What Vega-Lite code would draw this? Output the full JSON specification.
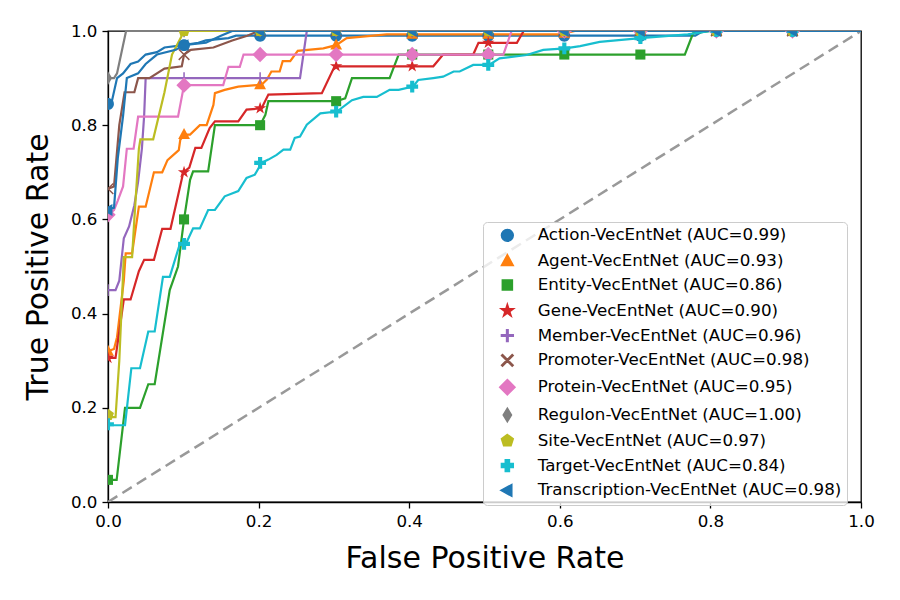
{
  "$schema": "https://vega.github.io/schema/vega-lite/v6.json",
  "width": 753,
  "height": 471,
  "autosize": {"type": "none"},
  "padding": {"left": 108, "top": 31, "right": 39, "bottom": 98},
  "background": "white",
  "config": {
    "font": "DejaVu Sans",
    "view": {"stroke": "black", "strokeWidth": 1.3},
    "axis": {
      "grid": false,
      "domainColor": "black",
      "domainWidth": 1.3,
      "tickColor": "black",
      "tickWidth": 1.3,
      "tickSize": 6,
      "labelFont": "DejaVu Sans",
      "labelFontSize": 16.7,
      "labelColor": "black",
      "labelPadding": 5,
      "labelFlush": false,
      "labelOverlap": false,
      "titleFont": "DejaVu Sans",
      "titleFontSize": 30,
      "titleFontWeight": "normal",
      "titleColor": "black"
    },
    "legend": {
      "orient": "none",
      "legendX": 375,
      "legendY": 191,
      "padding": 5,
      "strokeColor": "#cccccc",
      "fillColor": "rgba(255,255,255,0.8)",
      "cornerRadius": 4,
      "labelFont": "DejaVu Sans",
      "labelFontSize": 16.7,
      "labelColor": "black",
      "labelLimit": 400,
      "symbolSize": 140,
      "symbolOffset": 11,
      "labelOffset": 22,
      "rowPadding": 5.8
    }
  },
  "datasets": {
    "diag": [{"fpr": 0, "tpr": 0}, {"fpr": 1, "tpr": 1}],
    "curves": [
      {"s": "Action-VecEntNet (AUC=0.99)", "fpr": 0, "tpr": 0.845},
      {"s": "Action-VecEntNet (AUC=0.99)", "fpr": 0.005, "tpr": 0.85},
      {"s": "Action-VecEntNet (AUC=0.99)", "fpr": 0.012, "tpr": 0.9},
      {"s": "Action-VecEntNet (AUC=0.99)", "fpr": 0.02, "tpr": 0.91},
      {"s": "Action-VecEntNet (AUC=0.99)", "fpr": 0.03, "tpr": 0.93},
      {"s": "Action-VecEntNet (AUC=0.99)", "fpr": 0.04, "tpr": 0.935},
      {"s": "Action-VecEntNet (AUC=0.99)", "fpr": 0.05, "tpr": 0.95},
      {"s": "Action-VecEntNet (AUC=0.99)", "fpr": 0.065, "tpr": 0.955},
      {"s": "Action-VecEntNet (AUC=0.99)", "fpr": 0.075, "tpr": 0.965},
      {"s": "Action-VecEntNet (AUC=0.99)", "fpr": 0.1, "tpr": 0.97},
      {"s": "Action-VecEntNet (AUC=0.99)", "fpr": 0.12, "tpr": 0.975},
      {"s": "Action-VecEntNet (AUC=0.99)", "fpr": 0.13, "tpr": 0.98},
      {"s": "Action-VecEntNet (AUC=0.99)", "fpr": 0.16, "tpr": 0.985},
      {"s": "Action-VecEntNet (AUC=0.99)", "fpr": 0.17, "tpr": 0.99},
      {"s": "Action-VecEntNet (AUC=0.99)", "fpr": 0.78, "tpr": 0.99},
      {"s": "Action-VecEntNet (AUC=0.99)", "fpr": 0.79, "tpr": 1.0},
      {"s": "Action-VecEntNet (AUC=0.99)", "fpr": 1, "tpr": 1.0},

      {"s": "Agent-VecEntNet (AUC=0.93)", "fpr": 0, "tpr": 0.32},
      {"s": "Agent-VecEntNet (AUC=0.93)", "fpr": 0.008, "tpr": 0.325},
      {"s": "Agent-VecEntNet (AUC=0.93)", "fpr": 0.012, "tpr": 0.35},
      {"s": "Agent-VecEntNet (AUC=0.93)", "fpr": 0.021, "tpr": 0.47},
      {"s": "Agent-VecEntNet (AUC=0.93)", "fpr": 0.0235, "tpr": 0.528},
      {"s": "Agent-VecEntNet (AUC=0.93)", "fpr": 0.032, "tpr": 0.528},
      {"s": "Agent-VecEntNet (AUC=0.93)", "fpr": 0.041, "tpr": 0.627},
      {"s": "Agent-VecEntNet (AUC=0.93)", "fpr": 0.05, "tpr": 0.627},
      {"s": "Agent-VecEntNet (AUC=0.93)", "fpr": 0.061, "tpr": 0.7},
      {"s": "Agent-VecEntNet (AUC=0.93)", "fpr": 0.072, "tpr": 0.7},
      {"s": "Agent-VecEntNet (AUC=0.93)", "fpr": 0.079, "tpr": 0.726},
      {"s": "Agent-VecEntNet (AUC=0.93)", "fpr": 0.094, "tpr": 0.747},
      {"s": "Agent-VecEntNet (AUC=0.93)", "fpr": 0.096, "tpr": 0.769},
      {"s": "Agent-VecEntNet (AUC=0.93)", "fpr": 0.101, "tpr": 0.78},
      {"s": "Agent-VecEntNet (AUC=0.93)", "fpr": 0.109, "tpr": 0.78},
      {"s": "Agent-VecEntNet (AUC=0.93)", "fpr": 0.122, "tpr": 0.8},
      {"s": "Agent-VecEntNet (AUC=0.93)", "fpr": 0.131, "tpr": 0.8},
      {"s": "Agent-VecEntNet (AUC=0.93)", "fpr": 0.14, "tpr": 0.843},
      {"s": "Agent-VecEntNet (AUC=0.93)", "fpr": 0.142, "tpr": 0.868},
      {"s": "Agent-VecEntNet (AUC=0.93)", "fpr": 0.155, "tpr": 0.875},
      {"s": "Agent-VecEntNet (AUC=0.93)", "fpr": 0.173, "tpr": 0.882},
      {"s": "Agent-VecEntNet (AUC=0.93)", "fpr": 0.204, "tpr": 0.886},
      {"s": "Agent-VecEntNet (AUC=0.93)", "fpr": 0.211, "tpr": 0.897},
      {"s": "Agent-VecEntNet (AUC=0.93)", "fpr": 0.217, "tpr": 0.914},
      {"s": "Agent-VecEntNet (AUC=0.93)", "fpr": 0.228, "tpr": 0.914},
      {"s": "Agent-VecEntNet (AUC=0.93)", "fpr": 0.232, "tpr": 0.936},
      {"s": "Agent-VecEntNet (AUC=0.93)", "fpr": 0.242, "tpr": 0.936},
      {"s": "Agent-VecEntNet (AUC=0.93)", "fpr": 0.252, "tpr": 0.958},
      {"s": "Agent-VecEntNet (AUC=0.93)", "fpr": 0.286, "tpr": 0.963},
      {"s": "Agent-VecEntNet (AUC=0.93)", "fpr": 0.303, "tpr": 0.97},
      {"s": "Agent-VecEntNet (AUC=0.93)", "fpr": 0.317, "tpr": 0.985},
      {"s": "Agent-VecEntNet (AUC=0.93)", "fpr": 0.37, "tpr": 0.993},
      {"s": "Agent-VecEntNet (AUC=0.93)", "fpr": 0.6, "tpr": 0.993},
      {"s": "Agent-VecEntNet (AUC=0.93)", "fpr": 0.62, "tpr": 1.0},
      {"s": "Agent-VecEntNet (AUC=0.93)", "fpr": 1, "tpr": 1.0},

      {"s": "Entity-VecEntNet (AUC=0.86)", "fpr": 0, "tpr": 0.047},
      {"s": "Entity-VecEntNet (AUC=0.86)", "fpr": 0.0115, "tpr": 0.047},
      {"s": "Entity-VecEntNet (AUC=0.86)", "fpr": 0.0226, "tpr": 0.2},
      {"s": "Entity-VecEntNet (AUC=0.86)", "fpr": 0.0425, "tpr": 0.2},
      {"s": "Entity-VecEntNet (AUC=0.86)", "fpr": 0.0535, "tpr": 0.25},
      {"s": "Entity-VecEntNet (AUC=0.86)", "fpr": 0.062, "tpr": 0.25},
      {"s": "Entity-VecEntNet (AUC=0.86)", "fpr": 0.082, "tpr": 0.45},
      {"s": "Entity-VecEntNet (AUC=0.86)", "fpr": 0.093, "tpr": 0.5},
      {"s": "Entity-VecEntNet (AUC=0.86)", "fpr": 0.101, "tpr": 0.6},
      {"s": "Entity-VecEntNet (AUC=0.86)", "fpr": 0.109, "tpr": 0.684},
      {"s": "Entity-VecEntNet (AUC=0.86)", "fpr": 0.113, "tpr": 0.702},
      {"s": "Entity-VecEntNet (AUC=0.86)", "fpr": 0.133, "tpr": 0.702},
      {"s": "Entity-VecEntNet (AUC=0.86)", "fpr": 0.142, "tpr": 0.8},
      {"s": "Entity-VecEntNet (AUC=0.86)", "fpr": 0.202, "tpr": 0.8},
      {"s": "Entity-VecEntNet (AUC=0.86)", "fpr": 0.209, "tpr": 0.822},
      {"s": "Entity-VecEntNet (AUC=0.86)", "fpr": 0.213, "tpr": 0.851},
      {"s": "Entity-VecEntNet (AUC=0.86)", "fpr": 0.303, "tpr": 0.851},
      {"s": "Entity-VecEntNet (AUC=0.86)", "fpr": 0.315, "tpr": 0.857},
      {"s": "Entity-VecEntNet (AUC=0.86)", "fpr": 0.324, "tpr": 0.9},
      {"s": "Entity-VecEntNet (AUC=0.86)", "fpr": 0.374, "tpr": 0.9},
      {"s": "Entity-VecEntNet (AUC=0.86)", "fpr": 0.386, "tpr": 0.95},
      {"s": "Entity-VecEntNet (AUC=0.86)", "fpr": 0.766, "tpr": 0.95},
      {"s": "Entity-VecEntNet (AUC=0.86)", "fpr": 0.777, "tpr": 0.995},
      {"s": "Entity-VecEntNet (AUC=0.86)", "fpr": 0.8, "tpr": 1.0},
      {"s": "Entity-VecEntNet (AUC=0.86)", "fpr": 1, "tpr": 1.0},

      {"s": "Gene-VecEntNet (AUC=0.90)", "fpr": 0, "tpr": 0.306},
      {"s": "Gene-VecEntNet (AUC=0.90)", "fpr": 0.01, "tpr": 0.306},
      {"s": "Gene-VecEntNet (AUC=0.90)", "fpr": 0.021, "tpr": 0.43},
      {"s": "Gene-VecEntNet (AUC=0.90)", "fpr": 0.03, "tpr": 0.43},
      {"s": "Gene-VecEntNet (AUC=0.90)", "fpr": 0.041, "tpr": 0.49},
      {"s": "Gene-VecEntNet (AUC=0.90)", "fpr": 0.048, "tpr": 0.514},
      {"s": "Gene-VecEntNet (AUC=0.90)", "fpr": 0.061, "tpr": 0.514},
      {"s": "Gene-VecEntNet (AUC=0.90)", "fpr": 0.072, "tpr": 0.58},
      {"s": "Gene-VecEntNet (AUC=0.90)", "fpr": 0.083, "tpr": 0.58},
      {"s": "Gene-VecEntNet (AUC=0.90)", "fpr": 0.1, "tpr": 0.7},
      {"s": "Gene-VecEntNet (AUC=0.90)", "fpr": 0.108, "tpr": 0.71},
      {"s": "Gene-VecEntNet (AUC=0.90)", "fpr": 0.116, "tpr": 0.752},
      {"s": "Gene-VecEntNet (AUC=0.90)", "fpr": 0.124, "tpr": 0.752},
      {"s": "Gene-VecEntNet (AUC=0.90)", "fpr": 0.135, "tpr": 0.794},
      {"s": "Gene-VecEntNet (AUC=0.90)", "fpr": 0.142, "tpr": 0.808},
      {"s": "Gene-VecEntNet (AUC=0.90)", "fpr": 0.173, "tpr": 0.808},
      {"s": "Gene-VecEntNet (AUC=0.90)", "fpr": 0.184, "tpr": 0.833},
      {"s": "Gene-VecEntNet (AUC=0.90)", "fpr": 0.204, "tpr": 0.836},
      {"s": "Gene-VecEntNet (AUC=0.90)", "fpr": 0.213, "tpr": 0.865},
      {"s": "Gene-VecEntNet (AUC=0.90)", "fpr": 0.284, "tpr": 0.868},
      {"s": "Gene-VecEntNet (AUC=0.90)", "fpr": 0.301, "tpr": 0.925},
      {"s": "Gene-VecEntNet (AUC=0.90)", "fpr": 0.432, "tpr": 0.925},
      {"s": "Gene-VecEntNet (AUC=0.90)", "fpr": 0.445, "tpr": 0.95},
      {"s": "Gene-VecEntNet (AUC=0.90)", "fpr": 0.485, "tpr": 0.95},
      {"s": "Gene-VecEntNet (AUC=0.90)", "fpr": 0.492, "tpr": 0.975},
      {"s": "Gene-VecEntNet (AUC=0.90)", "fpr": 0.543, "tpr": 0.975},
      {"s": "Gene-VecEntNet (AUC=0.90)", "fpr": 0.552, "tpr": 1.0},
      {"s": "Gene-VecEntNet (AUC=0.90)", "fpr": 1, "tpr": 1.0},

      {"s": "Member-VecEntNet (AUC=0.96)", "fpr": 0, "tpr": 0.45},
      {"s": "Member-VecEntNet (AUC=0.96)", "fpr": 0.01, "tpr": 0.45},
      {"s": "Member-VecEntNet (AUC=0.96)", "fpr": 0.015, "tpr": 0.47},
      {"s": "Member-VecEntNet (AUC=0.96)", "fpr": 0.021, "tpr": 0.56},
      {"s": "Member-VecEntNet (AUC=0.96)", "fpr": 0.028, "tpr": 0.585},
      {"s": "Member-VecEntNet (AUC=0.96)", "fpr": 0.035, "tpr": 0.63},
      {"s": "Member-VecEntNet (AUC=0.96)", "fpr": 0.04, "tpr": 0.68},
      {"s": "Member-VecEntNet (AUC=0.96)", "fpr": 0.045, "tpr": 0.75},
      {"s": "Member-VecEntNet (AUC=0.96)", "fpr": 0.048, "tpr": 0.82},
      {"s": "Member-VecEntNet (AUC=0.96)", "fpr": 0.05, "tpr": 0.9},
      {"s": "Member-VecEntNet (AUC=0.96)", "fpr": 0.255, "tpr": 0.9},
      {"s": "Member-VecEntNet (AUC=0.96)", "fpr": 0.264, "tpr": 1.0},
      {"s": "Member-VecEntNet (AUC=0.96)", "fpr": 1, "tpr": 1.0},

      {"s": "Promoter-VecEntNet (AUC=0.98)", "fpr": 0, "tpr": 0.665},
      {"s": "Promoter-VecEntNet (AUC=0.98)", "fpr": 0.008, "tpr": 0.67},
      {"s": "Promoter-VecEntNet (AUC=0.98)", "fpr": 0.015, "tpr": 0.8},
      {"s": "Promoter-VecEntNet (AUC=0.98)", "fpr": 0.022, "tpr": 0.87},
      {"s": "Promoter-VecEntNet (AUC=0.98)", "fpr": 0.035, "tpr": 0.87},
      {"s": "Promoter-VecEntNet (AUC=0.98)", "fpr": 0.04, "tpr": 0.9},
      {"s": "Promoter-VecEntNet (AUC=0.98)", "fpr": 0.055, "tpr": 0.9},
      {"s": "Promoter-VecEntNet (AUC=0.98)", "fpr": 0.075, "tpr": 0.92},
      {"s": "Promoter-VecEntNet (AUC=0.98)", "fpr": 0.098, "tpr": 0.925},
      {"s": "Promoter-VecEntNet (AUC=0.98)", "fpr": 0.101, "tpr": 0.95},
      {"s": "Promoter-VecEntNet (AUC=0.98)", "fpr": 0.11, "tpr": 0.96},
      {"s": "Promoter-VecEntNet (AUC=0.98)", "fpr": 0.14, "tpr": 0.965},
      {"s": "Promoter-VecEntNet (AUC=0.98)", "fpr": 0.165, "tpr": 0.98},
      {"s": "Promoter-VecEntNet (AUC=0.98)", "fpr": 0.185, "tpr": 0.99},
      {"s": "Promoter-VecEntNet (AUC=0.98)", "fpr": 0.2, "tpr": 1.0},
      {"s": "Promoter-VecEntNet (AUC=0.98)", "fpr": 1, "tpr": 1.0},

      {"s": "Protein-VecEntNet (AUC=0.95)", "fpr": 0, "tpr": 0.61},
      {"s": "Protein-VecEntNet (AUC=0.95)", "fpr": 0.008, "tpr": 0.62},
      {"s": "Protein-VecEntNet (AUC=0.95)", "fpr": 0.013, "tpr": 0.64},
      {"s": "Protein-VecEntNet (AUC=0.95)", "fpr": 0.02, "tpr": 0.67},
      {"s": "Protein-VecEntNet (AUC=0.95)", "fpr": 0.025, "tpr": 0.75},
      {"s": "Protein-VecEntNet (AUC=0.95)", "fpr": 0.034, "tpr": 0.75},
      {"s": "Protein-VecEntNet (AUC=0.95)", "fpr": 0.04, "tpr": 0.818},
      {"s": "Protein-VecEntNet (AUC=0.95)", "fpr": 0.093, "tpr": 0.818},
      {"s": "Protein-VecEntNet (AUC=0.95)", "fpr": 0.101, "tpr": 0.885},
      {"s": "Protein-VecEntNet (AUC=0.95)", "fpr": 0.153, "tpr": 0.885},
      {"s": "Protein-VecEntNet (AUC=0.95)", "fpr": 0.16, "tpr": 0.924},
      {"s": "Protein-VecEntNet (AUC=0.95)", "fpr": 0.175, "tpr": 0.924},
      {"s": "Protein-VecEntNet (AUC=0.95)", "fpr": 0.18, "tpr": 0.95},
      {"s": "Protein-VecEntNet (AUC=0.95)", "fpr": 0.525, "tpr": 0.95},
      {"s": "Protein-VecEntNet (AUC=0.95)", "fpr": 0.536, "tpr": 1.0},
      {"s": "Protein-VecEntNet (AUC=0.95)", "fpr": 1, "tpr": 1.0},

      {"s": "Regulon-VecEntNet (AUC=1.00)", "fpr": 0, "tpr": 0.9},
      {"s": "Regulon-VecEntNet (AUC=1.00)", "fpr": 0.008, "tpr": 0.9},
      {"s": "Regulon-VecEntNet (AUC=1.00)", "fpr": 0.012, "tpr": 0.91},
      {"s": "Regulon-VecEntNet (AUC=1.00)", "fpr": 0.024, "tpr": 1.0},
      {"s": "Regulon-VecEntNet (AUC=1.00)", "fpr": 1, "tpr": 1.0},

      {"s": "Site-VecEntNet (AUC=0.97)", "fpr": 0, "tpr": 0.18},
      {"s": "Site-VecEntNet (AUC=0.97)", "fpr": 0.01, "tpr": 0.18},
      {"s": "Site-VecEntNet (AUC=0.97)", "fpr": 0.015, "tpr": 0.3},
      {"s": "Site-VecEntNet (AUC=0.97)", "fpr": 0.021, "tpr": 0.52},
      {"s": "Site-VecEntNet (AUC=0.97)", "fpr": 0.032, "tpr": 0.52},
      {"s": "Site-VecEntNet (AUC=0.97)", "fpr": 0.035, "tpr": 0.6},
      {"s": "Site-VecEntNet (AUC=0.97)", "fpr": 0.041, "tpr": 0.75},
      {"s": "Site-VecEntNet (AUC=0.97)", "fpr": 0.043, "tpr": 0.77},
      {"s": "Site-VecEntNet (AUC=0.97)", "fpr": 0.06, "tpr": 0.77},
      {"s": "Site-VecEntNet (AUC=0.97)", "fpr": 0.075, "tpr": 0.87},
      {"s": "Site-VecEntNet (AUC=0.97)", "fpr": 0.085, "tpr": 0.95},
      {"s": "Site-VecEntNet (AUC=0.97)", "fpr": 0.098, "tpr": 0.99},
      {"s": "Site-VecEntNet (AUC=0.97)", "fpr": 0.101, "tpr": 1.0},
      {"s": "Site-VecEntNet (AUC=0.97)", "fpr": 1, "tpr": 1.0},

      {"s": "Target-VecEntNet (AUC=0.84)", "fpr": 0, "tpr": 0.163},
      {"s": "Target-VecEntNet (AUC=0.84)", "fpr": 0.0226, "tpr": 0.163},
      {"s": "Target-VecEntNet (AUC=0.84)", "fpr": 0.031, "tpr": 0.284},
      {"s": "Target-VecEntNet (AUC=0.84)", "fpr": 0.0425, "tpr": 0.284},
      {"s": "Target-VecEntNet (AUC=0.84)", "fpr": 0.0535, "tpr": 0.362},
      {"s": "Target-VecEntNet (AUC=0.84)", "fpr": 0.062, "tpr": 0.362},
      {"s": "Target-VecEntNet (AUC=0.84)", "fpr": 0.073, "tpr": 0.478},
      {"s": "Target-VecEntNet (AUC=0.84)", "fpr": 0.082, "tpr": 0.478},
      {"s": "Target-VecEntNet (AUC=0.84)", "fpr": 0.0956, "tpr": 0.549},
      {"s": "Target-VecEntNet (AUC=0.84)", "fpr": 0.104, "tpr": 0.55},
      {"s": "Target-VecEntNet (AUC=0.84)", "fpr": 0.113, "tpr": 0.581},
      {"s": "Target-VecEntNet (AUC=0.84)", "fpr": 0.122, "tpr": 0.581},
      {"s": "Target-VecEntNet (AUC=0.84)", "fpr": 0.133, "tpr": 0.62},
      {"s": "Target-VecEntNet (AUC=0.84)", "fpr": 0.142, "tpr": 0.62},
      {"s": "Target-VecEntNet (AUC=0.84)", "fpr": 0.155, "tpr": 0.649},
      {"s": "Target-VecEntNet (AUC=0.84)", "fpr": 0.173, "tpr": 0.66},
      {"s": "Target-VecEntNet (AUC=0.84)", "fpr": 0.184, "tpr": 0.688},
      {"s": "Target-VecEntNet (AUC=0.84)", "fpr": 0.195, "tpr": 0.695},
      {"s": "Target-VecEntNet (AUC=0.84)", "fpr": 0.204, "tpr": 0.72},
      {"s": "Target-VecEntNet (AUC=0.84)", "fpr": 0.213, "tpr": 0.727},
      {"s": "Target-VecEntNet (AUC=0.84)", "fpr": 0.224, "tpr": 0.737},
      {"s": "Target-VecEntNet (AUC=0.84)", "fpr": 0.233, "tpr": 0.748},
      {"s": "Target-VecEntNet (AUC=0.84)", "fpr": 0.242, "tpr": 0.748},
      {"s": "Target-VecEntNet (AUC=0.84)", "fpr": 0.248, "tpr": 0.773},
      {"s": "Target-VecEntNet (AUC=0.84)", "fpr": 0.255, "tpr": 0.776},
      {"s": "Target-VecEntNet (AUC=0.84)", "fpr": 0.264, "tpr": 0.801},
      {"s": "Target-VecEntNet (AUC=0.84)", "fpr": 0.282, "tpr": 0.825},
      {"s": "Target-VecEntNet (AUC=0.84)", "fpr": 0.304, "tpr": 0.829},
      {"s": "Target-VecEntNet (AUC=0.84)", "fpr": 0.324, "tpr": 0.853},
      {"s": "Target-VecEntNet (AUC=0.84)", "fpr": 0.339, "tpr": 0.86},
      {"s": "Target-VecEntNet (AUC=0.84)", "fpr": 0.357, "tpr": 0.86},
      {"s": "Target-VecEntNet (AUC=0.84)", "fpr": 0.374, "tpr": 0.875},
      {"s": "Target-VecEntNet (AUC=0.84)", "fpr": 0.386, "tpr": 0.875},
      {"s": "Target-VecEntNet (AUC=0.84)", "fpr": 0.405, "tpr": 0.882},
      {"s": "Target-VecEntNet (AUC=0.84)", "fpr": 0.412, "tpr": 0.896},
      {"s": "Target-VecEntNet (AUC=0.84)", "fpr": 0.432, "tpr": 0.9},
      {"s": "Target-VecEntNet (AUC=0.84)", "fpr": 0.445, "tpr": 0.903},
      {"s": "Target-VecEntNet (AUC=0.84)", "fpr": 0.459, "tpr": 0.914},
      {"s": "Target-VecEntNet (AUC=0.84)", "fpr": 0.467, "tpr": 0.914},
      {"s": "Target-VecEntNet (AUC=0.84)", "fpr": 0.485, "tpr": 0.928},
      {"s": "Target-VecEntNet (AUC=0.84)", "fpr": 0.506, "tpr": 0.928},
      {"s": "Target-VecEntNet (AUC=0.84)", "fpr": 0.52, "tpr": 0.942},
      {"s": "Target-VecEntNet (AUC=0.84)", "fpr": 0.556, "tpr": 0.949},
      {"s": "Target-VecEntNet (AUC=0.84)", "fpr": 0.578, "tpr": 0.96},
      {"s": "Target-VecEntNet (AUC=0.84)", "fpr": 0.607, "tpr": 0.963},
      {"s": "Target-VecEntNet (AUC=0.84)", "fpr": 0.627, "tpr": 0.968},
      {"s": "Target-VecEntNet (AUC=0.84)", "fpr": 0.653, "tpr": 0.977},
      {"s": "Target-VecEntNet (AUC=0.84)", "fpr": 0.707, "tpr": 0.985},
      {"s": "Target-VecEntNet (AUC=0.84)", "fpr": 0.77, "tpr": 0.993},
      {"s": "Target-VecEntNet (AUC=0.84)", "fpr": 0.8, "tpr": 1.0},
      {"s": "Target-VecEntNet (AUC=0.84)", "fpr": 1, "tpr": 1.0},

      {"s": "Transcription-VecEntNet (AUC=0.98)", "fpr": 0, "tpr": 0.62},
      {"s": "Transcription-VecEntNet (AUC=0.98)", "fpr": 0.008, "tpr": 0.625},
      {"s": "Transcription-VecEntNet (AUC=0.98)", "fpr": 0.013, "tpr": 0.73},
      {"s": "Transcription-VecEntNet (AUC=0.98)", "fpr": 0.02, "tpr": 0.82},
      {"s": "Transcription-VecEntNet (AUC=0.98)", "fpr": 0.025, "tpr": 0.9},
      {"s": "Transcription-VecEntNet (AUC=0.98)", "fpr": 0.04, "tpr": 0.91},
      {"s": "Transcription-VecEntNet (AUC=0.98)", "fpr": 0.05, "tpr": 0.93},
      {"s": "Transcription-VecEntNet (AUC=0.98)", "fpr": 0.065, "tpr": 0.95},
      {"s": "Transcription-VecEntNet (AUC=0.98)", "fpr": 0.09, "tpr": 0.96},
      {"s": "Transcription-VecEntNet (AUC=0.98)", "fpr": 0.1, "tpr": 0.97},
      {"s": "Transcription-VecEntNet (AUC=0.98)", "fpr": 0.13, "tpr": 0.975},
      {"s": "Transcription-VecEntNet (AUC=0.98)", "fpr": 0.15, "tpr": 0.99},
      {"s": "Transcription-VecEntNet (AUC=0.98)", "fpr": 0.165, "tpr": 1.0},
      {"s": "Transcription-VecEntNet (AUC=0.98)", "fpr": 1, "tpr": 1.0}
    ],
    "markers": [
      {"s": "Action-VecEntNet (AUC=0.99)", "fpr": 0, "tpr": 0.845},
      {"s": "Action-VecEntNet (AUC=0.99)", "fpr": 0.101, "tpr": 0.97},
      {"s": "Action-VecEntNet (AUC=0.99)", "fpr": 0.202, "tpr": 0.99},
      {"s": "Action-VecEntNet (AUC=0.99)", "fpr": 0.303, "tpr": 0.99},
      {"s": "Action-VecEntNet (AUC=0.99)", "fpr": 0.404, "tpr": 0.99},
      {"s": "Action-VecEntNet (AUC=0.99)", "fpr": 0.505, "tpr": 0.99},
      {"s": "Action-VecEntNet (AUC=0.99)", "fpr": 0.606, "tpr": 0.99},
      {"s": "Action-VecEntNet (AUC=0.99)", "fpr": 0.707, "tpr": 0.99},
      {"s": "Action-VecEntNet (AUC=0.99)", "fpr": 0.808, "tpr": 1.0},
      {"s": "Action-VecEntNet (AUC=0.99)", "fpr": 0.909, "tpr": 1.0},
      {"s": "Agent-VecEntNet (AUC=0.93)", "fpr": 0, "tpr": 0.32},
      {"s": "Agent-VecEntNet (AUC=0.93)", "fpr": 0.101, "tpr": 0.78},
      {"s": "Agent-VecEntNet (AUC=0.93)", "fpr": 0.202, "tpr": 0.886},
      {"s": "Agent-VecEntNet (AUC=0.93)", "fpr": 0.303, "tpr": 0.97},
      {"s": "Agent-VecEntNet (AUC=0.93)", "fpr": 0.404, "tpr": 0.993},
      {"s": "Agent-VecEntNet (AUC=0.93)", "fpr": 0.505, "tpr": 0.993},
      {"s": "Agent-VecEntNet (AUC=0.93)", "fpr": 0.606, "tpr": 0.995},
      {"s": "Agent-VecEntNet (AUC=0.93)", "fpr": 0.707, "tpr": 1.0},
      {"s": "Agent-VecEntNet (AUC=0.93)", "fpr": 0.808, "tpr": 1.0},
      {"s": "Agent-VecEntNet (AUC=0.93)", "fpr": 0.909, "tpr": 1.0},
      {"s": "Entity-VecEntNet (AUC=0.86)", "fpr": 0, "tpr": 0.047},
      {"s": "Entity-VecEntNet (AUC=0.86)", "fpr": 0.101, "tpr": 0.6},
      {"s": "Entity-VecEntNet (AUC=0.86)", "fpr": 0.202, "tpr": 0.8},
      {"s": "Entity-VecEntNet (AUC=0.86)", "fpr": 0.303, "tpr": 0.851},
      {"s": "Entity-VecEntNet (AUC=0.86)", "fpr": 0.404, "tpr": 0.95},
      {"s": "Entity-VecEntNet (AUC=0.86)", "fpr": 0.505, "tpr": 0.95},
      {"s": "Entity-VecEntNet (AUC=0.86)", "fpr": 0.606, "tpr": 0.95},
      {"s": "Entity-VecEntNet (AUC=0.86)", "fpr": 0.707, "tpr": 0.95},
      {"s": "Entity-VecEntNet (AUC=0.86)", "fpr": 0.808, "tpr": 1.0},
      {"s": "Entity-VecEntNet (AUC=0.86)", "fpr": 0.909, "tpr": 1.0},
      {"s": "Gene-VecEntNet (AUC=0.90)", "fpr": 0, "tpr": 0.306},
      {"s": "Gene-VecEntNet (AUC=0.90)", "fpr": 0.101, "tpr": 0.7},
      {"s": "Gene-VecEntNet (AUC=0.90)", "fpr": 0.202, "tpr": 0.836},
      {"s": "Gene-VecEntNet (AUC=0.90)", "fpr": 0.303, "tpr": 0.925},
      {"s": "Gene-VecEntNet (AUC=0.90)", "fpr": 0.404, "tpr": 0.925},
      {"s": "Gene-VecEntNet (AUC=0.90)", "fpr": 0.505, "tpr": 0.975},
      {"s": "Gene-VecEntNet (AUC=0.90)", "fpr": 0.606, "tpr": 1.0},
      {"s": "Gene-VecEntNet (AUC=0.90)", "fpr": 0.707, "tpr": 1.0},
      {"s": "Gene-VecEntNet (AUC=0.90)", "fpr": 0.808, "tpr": 1.0},
      {"s": "Gene-VecEntNet (AUC=0.90)", "fpr": 0.909, "tpr": 1.0},
      {"s": "Member-VecEntNet (AUC=0.96)", "fpr": 0, "tpr": 0.45},
      {"s": "Member-VecEntNet (AUC=0.96)", "fpr": 0.101, "tpr": 0.9},
      {"s": "Member-VecEntNet (AUC=0.96)", "fpr": 0.202, "tpr": 0.9},
      {"s": "Member-VecEntNet (AUC=0.96)", "fpr": 0.303, "tpr": 1.0},
      {"s": "Member-VecEntNet (AUC=0.96)", "fpr": 0.404, "tpr": 1.0},
      {"s": "Member-VecEntNet (AUC=0.96)", "fpr": 0.505, "tpr": 1.0},
      {"s": "Member-VecEntNet (AUC=0.96)", "fpr": 0.606, "tpr": 1.0},
      {"s": "Member-VecEntNet (AUC=0.96)", "fpr": 0.707, "tpr": 1.0},
      {"s": "Member-VecEntNet (AUC=0.96)", "fpr": 0.808, "tpr": 1.0},
      {"s": "Member-VecEntNet (AUC=0.96)", "fpr": 0.909, "tpr": 1.0},
      {"s": "Promoter-VecEntNet (AUC=0.98)", "fpr": 0, "tpr": 0.665},
      {"s": "Promoter-VecEntNet (AUC=0.98)", "fpr": 0.101, "tpr": 0.95},
      {"s": "Promoter-VecEntNet (AUC=0.98)", "fpr": 0.202, "tpr": 1.0},
      {"s": "Promoter-VecEntNet (AUC=0.98)", "fpr": 0.303, "tpr": 1.0},
      {"s": "Promoter-VecEntNet (AUC=0.98)", "fpr": 0.404, "tpr": 1.0},
      {"s": "Promoter-VecEntNet (AUC=0.98)", "fpr": 0.505, "tpr": 1.0},
      {"s": "Promoter-VecEntNet (AUC=0.98)", "fpr": 0.606, "tpr": 1.0},
      {"s": "Promoter-VecEntNet (AUC=0.98)", "fpr": 0.707, "tpr": 1.0},
      {"s": "Promoter-VecEntNet (AUC=0.98)", "fpr": 0.808, "tpr": 1.0},
      {"s": "Promoter-VecEntNet (AUC=0.98)", "fpr": 0.909, "tpr": 1.0},
      {"s": "Protein-VecEntNet (AUC=0.95)", "fpr": 0, "tpr": 0.61},
      {"s": "Protein-VecEntNet (AUC=0.95)", "fpr": 0.101, "tpr": 0.885},
      {"s": "Protein-VecEntNet (AUC=0.95)", "fpr": 0.202, "tpr": 0.95},
      {"s": "Protein-VecEntNet (AUC=0.95)", "fpr": 0.303, "tpr": 0.95},
      {"s": "Protein-VecEntNet (AUC=0.95)", "fpr": 0.404, "tpr": 0.95},
      {"s": "Protein-VecEntNet (AUC=0.95)", "fpr": 0.505, "tpr": 0.95},
      {"s": "Protein-VecEntNet (AUC=0.95)", "fpr": 0.606, "tpr": 1.0},
      {"s": "Protein-VecEntNet (AUC=0.95)", "fpr": 0.707, "tpr": 1.0},
      {"s": "Protein-VecEntNet (AUC=0.95)", "fpr": 0.808, "tpr": 1.0},
      {"s": "Protein-VecEntNet (AUC=0.95)", "fpr": 0.909, "tpr": 1.0},
      {"s": "Regulon-VecEntNet (AUC=1.00)", "fpr": 0, "tpr": 0.9},
      {"s": "Regulon-VecEntNet (AUC=1.00)", "fpr": 0.101, "tpr": 1.0},
      {"s": "Regulon-VecEntNet (AUC=1.00)", "fpr": 0.202, "tpr": 1.0},
      {"s": "Regulon-VecEntNet (AUC=1.00)", "fpr": 0.303, "tpr": 1.0},
      {"s": "Regulon-VecEntNet (AUC=1.00)", "fpr": 0.404, "tpr": 1.0},
      {"s": "Regulon-VecEntNet (AUC=1.00)", "fpr": 0.505, "tpr": 1.0},
      {"s": "Regulon-VecEntNet (AUC=1.00)", "fpr": 0.606, "tpr": 1.0},
      {"s": "Regulon-VecEntNet (AUC=1.00)", "fpr": 0.707, "tpr": 1.0},
      {"s": "Regulon-VecEntNet (AUC=1.00)", "fpr": 0.808, "tpr": 1.0},
      {"s": "Regulon-VecEntNet (AUC=1.00)", "fpr": 0.909, "tpr": 1.0},
      {"s": "Site-VecEntNet (AUC=0.97)", "fpr": 0, "tpr": 0.185},
      {"s": "Site-VecEntNet (AUC=0.97)", "fpr": 0.101, "tpr": 1.0},
      {"s": "Site-VecEntNet (AUC=0.97)", "fpr": 0.202, "tpr": 1.0},
      {"s": "Site-VecEntNet (AUC=0.97)", "fpr": 0.303, "tpr": 1.0},
      {"s": "Site-VecEntNet (AUC=0.97)", "fpr": 0.404, "tpr": 1.0},
      {"s": "Site-VecEntNet (AUC=0.97)", "fpr": 0.505, "tpr": 1.0},
      {"s": "Site-VecEntNet (AUC=0.97)", "fpr": 0.606, "tpr": 1.0},
      {"s": "Site-VecEntNet (AUC=0.97)", "fpr": 0.707, "tpr": 1.0},
      {"s": "Site-VecEntNet (AUC=0.97)", "fpr": 0.808, "tpr": 1.0},
      {"s": "Site-VecEntNet (AUC=0.97)", "fpr": 0.909, "tpr": 1.0},
      {"s": "Target-VecEntNet (AUC=0.84)", "fpr": 0, "tpr": 0.165},
      {"s": "Target-VecEntNet (AUC=0.84)", "fpr": 0.101, "tpr": 0.548},
      {"s": "Target-VecEntNet (AUC=0.84)", "fpr": 0.202, "tpr": 0.72},
      {"s": "Target-VecEntNet (AUC=0.84)", "fpr": 0.303, "tpr": 0.829},
      {"s": "Target-VecEntNet (AUC=0.84)", "fpr": 0.404, "tpr": 0.882},
      {"s": "Target-VecEntNet (AUC=0.84)", "fpr": 0.505, "tpr": 0.928},
      {"s": "Target-VecEntNet (AUC=0.84)", "fpr": 0.606, "tpr": 0.963},
      {"s": "Target-VecEntNet (AUC=0.84)", "fpr": 0.707, "tpr": 0.985},
      {"s": "Target-VecEntNet (AUC=0.84)", "fpr": 0.808, "tpr": 1.0},
      {"s": "Target-VecEntNet (AUC=0.84)", "fpr": 0.909, "tpr": 1.0},
      {"s": "Transcription-VecEntNet (AUC=0.98)", "fpr": 0, "tpr": 0.62},
      {"s": "Transcription-VecEntNet (AUC=0.98)", "fpr": 0.101, "tpr": 0.97},
      {"s": "Transcription-VecEntNet (AUC=0.98)", "fpr": 0.202, "tpr": 1.0},
      {"s": "Transcription-VecEntNet (AUC=0.98)", "fpr": 0.303, "tpr": 1.0},
      {"s": "Transcription-VecEntNet (AUC=0.98)", "fpr": 0.404, "tpr": 1.0},
      {"s": "Transcription-VecEntNet (AUC=0.98)", "fpr": 0.505, "tpr": 1.0},
      {"s": "Transcription-VecEntNet (AUC=0.98)", "fpr": 0.606, "tpr": 1.0},
      {"s": "Transcription-VecEntNet (AUC=0.98)", "fpr": 0.707, "tpr": 1.0},
      {"s": "Transcription-VecEntNet (AUC=0.98)", "fpr": 0.808, "tpr": 1.0},
      {"s": "Transcription-VecEntNet (AUC=0.98)", "fpr": 0.909, "tpr": 1.0}
    ]
  },
  "layer": [
    {
      "data": {"name": "diag"},
      "mark": {"type": "line", "color": "#999999", "strokeWidth": 2.5, "strokeDash": [11, 6], "clip": true},
      "encoding": {
        "x": {"field": "fpr", "type": "quantitative", "scale": {"domain": [0, 1], "nice": false, "zero": false},
              "axis": {"title": "False Positive Rate", "values": [0, 0.2, 0.4, 0.6, 0.8, 1.0], "format": ".1f", "titlePadding": 14}},
        "y": {"field": "tpr", "type": "quantitative", "scale": {"domain": [0, 1], "nice": false, "zero": false},
              "axis": {"title": "True Positive Rate", "values": [0, 0.2, 0.4, 0.6, 0.8, 1.0], "format": ".1f", "titlePadding": 17}}
      }
    },
    {
      "data": {"name": "curves"},
      "mark": {"type": "line", "strokeWidth": 2.2, "clip": true},
      "encoding": {
        "x": {"field": "fpr", "type": "quantitative"},
        "y": {"field": "tpr", "type": "quantitative"},
        "color": {"field": "s", "type": "nominal", "title": null,
          "scale": {
            "domain": ["Action-VecEntNet (AUC=0.99)", "Agent-VecEntNet (AUC=0.93)", "Entity-VecEntNet (AUC=0.86)", "Gene-VecEntNet (AUC=0.90)", "Member-VecEntNet (AUC=0.96)", "Promoter-VecEntNet (AUC=0.98)", "Protein-VecEntNet (AUC=0.95)", "Regulon-VecEntNet (AUC=1.00)", "Site-VecEntNet (AUC=0.97)", "Target-VecEntNet (AUC=0.84)", "Transcription-VecEntNet (AUC=0.98)"],
            "range": ["#1f77b4", "#ff7f0e", "#2ca02c", "#d62728", "#9467bd", "#8c564b", "#e377c2", "#7f7f7f", "#bcbd22", "#17becf", "#1f77b4"]
          }},
        "order": {"value": null}
      }
    },
    {
      "data": {"name": "markers"},
      "mark": {"type": "point", "filled": true, "opacity": 1, "size": 140, "clip": true},
      "encoding": {
        "x": {"field": "fpr", "type": "quantitative"},
        "y": {"field": "tpr", "type": "quantitative"},
        "color": {"field": "s", "type": "nominal", "title": null,
          "legend": {"encode": {"symbols": {
            "shape": {"value": {"signal": "scale('shape', datum.value) + ' M-3,-0.19H3V0.19H-3Z'"}},
            "opacity": {"value": 1}
          }}}},
        "shape": {"field": "s", "type": "nominal", "legend": null,
          "scale": {
            "domain": ["Action-VecEntNet (AUC=0.99)", "Agent-VecEntNet (AUC=0.93)", "Entity-VecEntNet (AUC=0.86)", "Gene-VecEntNet (AUC=0.90)", "Member-VecEntNet (AUC=0.96)", "Promoter-VecEntNet (AUC=0.98)", "Protein-VecEntNet (AUC=0.95)", "Regulon-VecEntNet (AUC=1.00)", "Site-VecEntNet (AUC=0.97)", "Target-VecEntNet (AUC=0.84)", "Transcription-VecEntNet (AUC=0.98)"],
            "range": [
              "M1,0A1,1,0,1,1,-1,0A1,1,0,1,1,1,0Z",
              "M0,-1.1L1,0.75L-1,0.75Z",
              "M-0.85,-0.85H0.85V0.85H-0.85Z",
              "M0,-1.1L0.247,-0.34L1.046,-0.34L0.4,0.13L0.647,0.89L0,0.42L-0.647,0.89L-0.4,0.13L-1.046,-0.34L-0.247,-0.34Z",
              "M-1,-0.13H1V0.13H-1Z M-0.13,-1H0.13V1H-0.13Z",
              "M-0.815,-0.985L0.985,0.815L0.815,0.985L-0.985,-0.815Z M-0.985,0.815L0.815,-0.985L0.985,-0.815L-0.815,0.985Z",
              "M0,-1.3L1.3,0L0,1.3L-1.3,0Z",
              "M0,-1.15L0.7,0L0,1.15L-0.7,0Z",
              "M0,-1.05L1,-0.32L0.62,0.85L-0.62,0.85L-1,-0.32Z",
              "M-0.35,-1H0.35V-0.35H1V0.35H0.35V1H-0.35V0.35H-1V-0.35H-0.35Z",
              "M-1.1,0L0.75,-1L0.75,1Z"
            ]
          }}
      }
    }
  ]
}
